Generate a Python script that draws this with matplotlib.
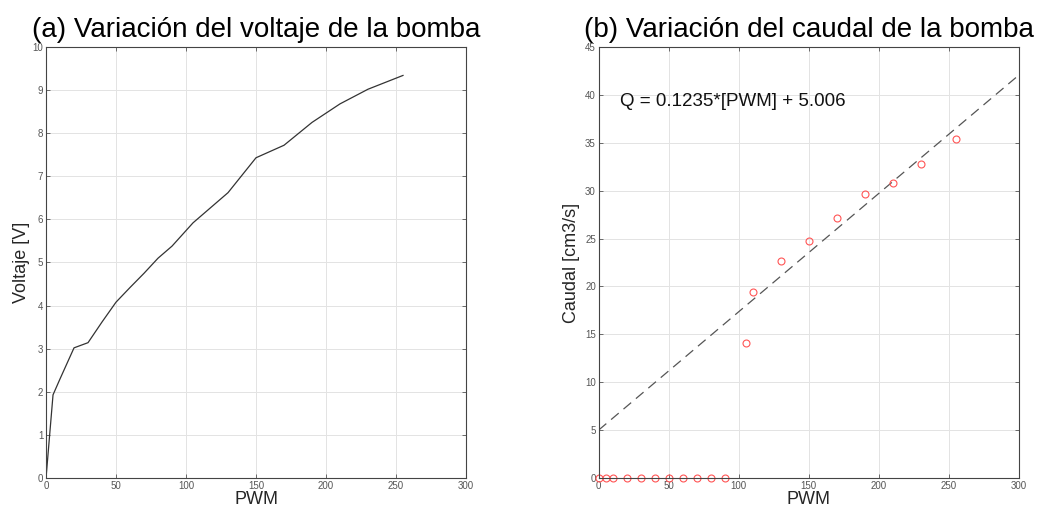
import matplotlib
matplotlib.use("Agg")
from matplotlib import pyplot as plt
import numpy as np

plt.rcParams['font.family'] = ['Liberation Sans', 'DejaVu Sans']

# (a) voltaje de la bomba
pwm_v = [0, 5, 10, 20, 30, 40, 50, 60, 70, 80, 90, 105, 130, 150, 170, 190, 210, 230, 255]
voltaje = [0, 1.93, 2.3, 3.02, 3.14, 3.62, 4.08, 4.42, 4.75, 5.1, 5.38, 5.92, 6.62, 7.43,
           7.72, 8.25, 8.68, 9.02, 9.34]

# (b) caudal de la bomba
pwm_q = [0, 5, 10, 20, 30, 40, 50, 60, 70, 80, 90, 105, 110, 130, 150, 170, 190, 210, 230, 255]
caudal = [0, 0, 0, 0, 0, 0, 0, 0, 0, 0, 0, 14.1, 19.4, 22.7, 24.7, 27.1, 29.7, 30.8, 32.8, 35.4]

pendiente = 0.1235
ordenada = 5.006
fit_x = [0, 300]

tick_col = "#555555"

def style_axes(ax, ymax, ystep):
    ax.set_xlim(0, 300)
    ax.set_ylim(0, ymax)
    ax.set_xticks(np.arange(0, 301, 50))
    ax.set_yticks(np.arange(0, ymax + 0.1, ystep))
    ax.tick_params(direction="in", length=3, width=0.6, labelsize=7,
                   colors=tick_col, top=True, right=True, pad=2)
    ax.grid(True, color="#e3e3e3", linewidth=0.7)
    ax.set_axisbelow(True)
    for s in ax.spines.values():
        s.set_color("#444444")
        s.set_linewidth(0.8)

fig = plt.figure(figsize=(10.39, 5.14), dpi=100)
ax1 = fig.add_axes([0.0443, 0.070, 0.4042, 0.8386])
ax2 = fig.add_axes([0.5762, 0.070, 0.4043, 0.8386])

ax1.plot(pwm_v, voltaje, color="#333333", linewidth=0.9)
style_axes(ax1, 10, 1)
ax1.set_title("(a) Variación del voltaje de la bomba", fontsize=20, pad=7)
ax1.set_xlabel("PWM", fontsize=13, labelpad=0, color="#262626")
ax1.set_ylabel("Voltaje [V]", fontsize=13, labelpad=2, color="#262626")

fit_y = [pendiente * x + ordenada for x in fit_x]
ax2.plot(fit_x, fit_y, color="#555555", linestyle=(0, (8, 5)), linewidth=0.9)
ax2.plot(pwm_q, caudal, linestyle="none", marker="o", markersize=5,
         markerfacecolor="none", markeredgecolor="#ff5555", markeredgewidth=0.8,
         clip_on=False)
style_axes(ax2, 45, 5)
ax2.set_title("(b) Variación del caudal de la bomba", fontsize=20, pad=7)
ax2.set_xlabel("PWM", fontsize=13, labelpad=0, color="#262626")
ax2.set_ylabel("Caudal [cm3/s]", fontsize=13, labelpad=4, color="#262626")
ax2.text(15, 39.3, "Q = 0.1235*[PWM] + 5.006", fontsize=13.5, va="center", color="#111111")

fig.savefig("out.png", dpi=100, facecolor="white")
